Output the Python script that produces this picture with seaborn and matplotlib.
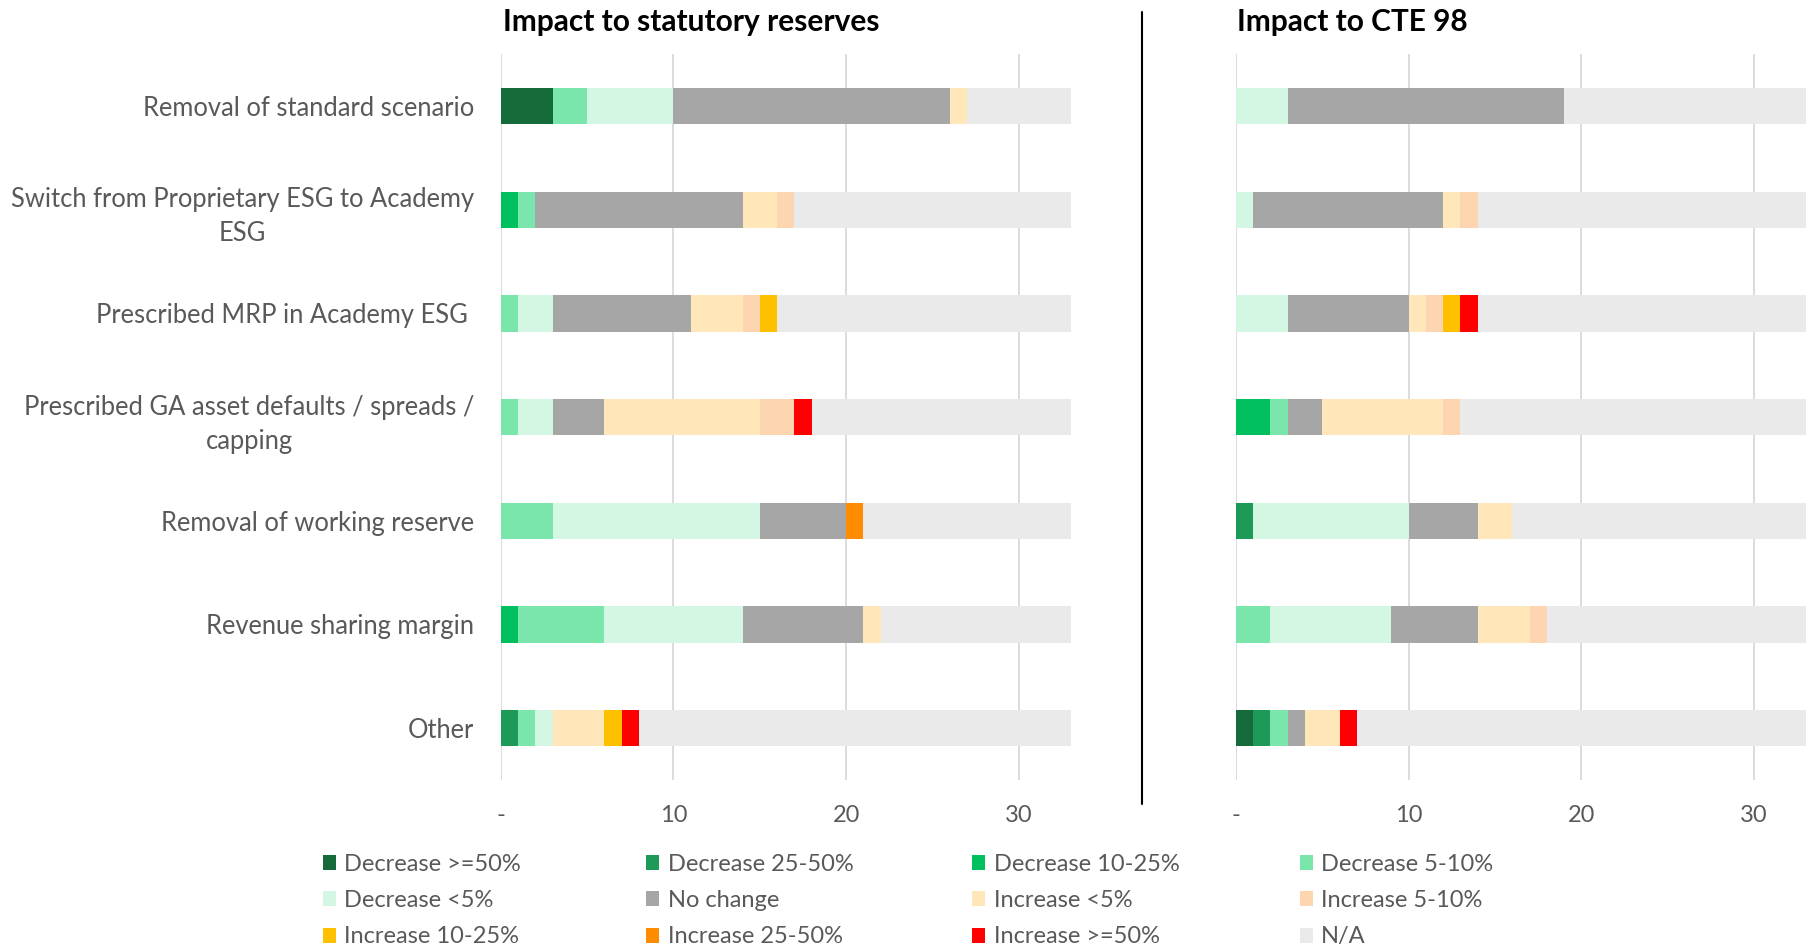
import matplotlib
matplotlib.use("Agg")
import matplotlib.pyplot as plt
from matplotlib.patches import Patch
from matplotlib.lines import Line2D
import numpy as np
import seaborn as sns

# Categories (top to bottom)
categories = [
    "Removal of standard scenario",
    "Switch from Proprietary ESG to Academy\nESG",
    "Prescribed MRP in Academy ESG ",
    "Prescribed GA asset defaults / spreads /\ncapping",
    "Removal of working reserve",
    "Revenue sharing margin",
    "Other",
]

levels = [
    "Decrease >=50%", "Decrease 25-50%", "Decrease 10-25%", "Decrease 5-10%",
    "Decrease <5%", "No change", "Increase <5%", "Increase 5-10%",
    "Increase 10-25%", "Increase 25-50%", "Increase >=50%", "N/A",
]

level_colors = [
    "#156A3A", "#1E9A58", "#00C060", "#7BE6AC",
    "#D3F7E3", "#A6A6A6", "#FFE7BA", "#FDD5B1",
    "#FFC000", "#FF8C00", "#FF0000", "#EAEAEA",
]

# Number of responses per category (rows) and impact level (columns)
statutory_counts = [
    [3, 0, 0, 2, 5, 16, 1, 0, 0, 0, 0, 6],
    [0, 0, 1, 1, 0, 12, 2, 1, 0, 0, 0, 16],
    [0, 0, 0, 1, 2, 8, 3, 1, 1, 0, 0, 17],
    [0, 0, 0, 1, 2, 3, 9, 2, 0, 0, 1, 15],
    [0, 0, 0, 3, 12, 5, 0, 0, 0, 1, 0, 12],
    [0, 0, 1, 5, 8, 7, 1, 0, 0, 0, 0, 11],
    [0, 1, 0, 1, 1, 0, 3, 0, 1, 0, 1, 25],
]

cte98_counts = [
    [0, 0, 0, 0, 3, 16, 0, 0, 0, 0, 0, 14],
    [0, 0, 0, 0, 1, 11, 1, 1, 0, 0, 0, 19],
    [0, 0, 0, 0, 3, 7, 1, 1, 1, 0, 1, 19],
    [0, 0, 2, 1, 0, 2, 7, 1, 0, 0, 0, 20],
    [0, 1, 0, 0, 9, 4, 2, 0, 0, 0, 0, 17],
    [0, 0, 0, 2, 7, 5, 3, 1, 0, 0, 0, 15],
    [1, 1, 0, 1, 0, 1, 2, 0, 0, 0, 1, 26],
]

x_ticks = [0, 10, 20, 30]
x_ticklabels = ["-", "10", "20", "30"]

sns.set_theme(style="white")
plt.rcParams["font.family"] = ["Lato", "DejaVu Sans"]

TEXT = "#595959"
GRID = "#D9D9D9"

fig = plt.figure(figsize=(18.13, 9.48), dpi=100)
ax_left = fig.add_axes([0.2762, 0.1772, 0.3144, 0.7657])
ax_right = fig.add_axes([0.6817, 0.1772, 0.3144, 0.7657])


def draw_stacked(ax, counts, show_labels):
    """Stacked horizontal bars: draw cumulative totals from widest to narrowest."""
    cum = np.cumsum(np.array(counts), axis=1)
    for k in range(len(levels) - 1, -1, -1):
        sns.barplot(x=cum[:, k], y=categories, order=categories, orient="y",
                    color=level_colors[k], saturation=1, width=0.35,
                    linewidth=0, errorbar=None, ax=ax)
    ax.set_xlim(0, 33)
    ax.set_ylim(6.5, -0.5)
    ax.set_xticks(x_ticks)
    ax.set_xticklabels(x_ticklabels, fontsize=17, color=TEXT)
    ax.xaxis.grid(True, color=GRID, linewidth=1.3)
    ax.yaxis.grid(False)
    ax.set_axisbelow(True)
    ax.tick_params(axis="x", length=0, pad=18)
    ax.tick_params(axis="y", length=0, pad=19)
    for s in ax.spines.values():
        s.set_visible(False)
    ax.set_xlabel("")
    ax.set_ylabel("")
    if show_labels:
        ax.set_yticks(range(len(categories)))
        ax.set_yticklabels(categories, fontsize=18.4, color=TEXT,
                           multialignment="center", linespacing=1.45)
    else:
        ax.set_yticklabels([])


draw_stacked(ax_left, statutory_counts, True)
draw_stacked(ax_right, cte98_counts, False)

fig.text(0.2774, 0.977, "Impact to statutory reserves", fontsize=21.5,
         fontweight="bold", color="black", ha="left", va="center")
fig.text(0.6823, 0.977, "Impact to CTE 98", fontsize=21.5,
         fontweight="bold", color="black", ha="left", va="center")

# divider between the two panels
fig.add_artist(Line2D([0.6301, 0.6301], [0.1523, 0.9878], color="black",
                      linewidth=1.5, transform=fig.transFigure))

# legend: 3 rows x 4 columns, filled row-wise
col_x = [0.178, 0.3565, 0.5364, 0.7169]
for j in range(4):
    idx = [i * 4 + j for i in range(3)]
    handles = [Patch(facecolor=level_colors[n], edgecolor="none") for n in idx]
    labels = [levels[n] for n in idx]
    fig.legend(handles, labels, loc="upper left",
               bbox_to_anchor=(col_x[j], 0.0995), frameon=False,
               fontsize=17, labelcolor=TEXT, handlelength=0.55,
               handleheight=0.6, handletextpad=0.35, labelspacing=0.65,
               borderpad=0, borderaxespad=0)

fig.savefig("out.png", dpi=100)
